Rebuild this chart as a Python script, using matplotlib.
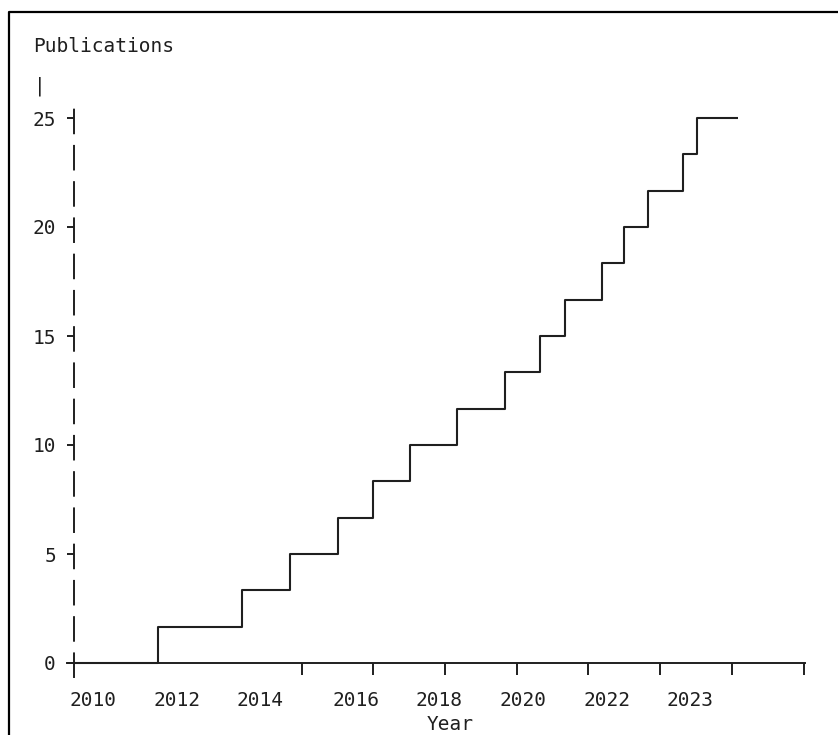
# cumulative publications, step chart in a terminal-like style
import numpy as np
import matplotlib.pyplot as plt
from matplotlib.lines import Line2D

plt.rcParams['font.family'] = ['DejaVu Sans Mono']
plt.rcParams['lines.scale_dashes'] = False

# data
step_years = [2010.0, 2012.0, 2014.0, 2015.14, 2016.29, 2017.12, 2018.0, 2019.12,
              2020.26, 2021.1, 2021.69, 2022.57, 2023.1, 2023.67, 2024.5, 2024.83, 2025.81]
publications = [0, 1.67, 3.33, 5, 6.67, 8.33, 10, 11.67, 13.33, 15, 16.67, 18.33,
                20, 21.67, 23.33, 25, 25]
year_labels = ['2010', '2012', '2014', '2016', '2018', '2020', '2022', '2023']
year_label_pos = [2010.45, 2012.45, 2014.43, 2016.71, 2018.69, 2020.69, 2022.69, 2024.67]
tick_marks = [2015.43, 2017.12, 2018.83, 2020.55, 2022.24, 2023.95, 2025.67, 2027.38]
y_ticks = [0, 5, 10, 15, 20, 25]

ink = '#1f1f1f'
fig = plt.figure(figsize=(8.38, 7.35), dpi=100, facecolor='white')
ax = fig.add_axes([67/838, 1 - 677/735, (805 - 67)/838, (677 - 107)/735])

ax.step(step_years, publications, where='post', color=ink, linewidth=1.5,
        solid_joinstyle='round', solid_capstyle='butt')

ax.set_xlim(2010 - 7/42, 2010 + 731/42)
ax.set_ylim(-14/21.8, 556/21.8)

for s in ['top', 'right']:
    ax.spines[s].set_visible(False)
ax.spines['bottom'].set_position(('data', 0))
ax.spines['left'].set_position(('data', 2010))
ax.spines['left'].set_linestyle((0, (17.0, 9.1)))
for s in ['bottom', 'left']:
    ax.spines[s].set_color(ink)
    ax.spines[s].set_linewidth(1.4)

ax.set_xticks(year_label_pos)
ax.set_xticklabels(year_labels)
ax.set_xticks(tick_marks, minor=True)
ax.tick_params(axis='x', which='major', length=0, pad=20, labelsize=14, labelcolor=ink)
ax.tick_params(axis='x', which='minor', length=8.6, width=1.4, color=ink, direction='out')
ax.set_yticks(y_ticks)
ax.tick_params(axis='y', length=5, width=1.4, color=ink, pad=8, labelsize=14, labelcolor=ink)

fig.text(33/838, 1 - 47/735, 'Publications', fontsize=14, color=ink, ha='left', va='center')
fig.text(34/838, 1 - 86/735, '|', fontsize=14, color=ink, ha='left', va='center')
fig.text(450/838, 1/735, 'Year', fontsize=14, color=ink, ha='center', va='bottom')

# outer frame (only top and left edges are inside the picture)
fig.add_artist(Line2D([9/838, 9/838, 1.01], [-0.01, 1 - 12/735, 1 - 12/735],
                      transform=fig.transFigure, color='black', linewidth=1.6))

fig.savefig('out.png', dpi=100)
